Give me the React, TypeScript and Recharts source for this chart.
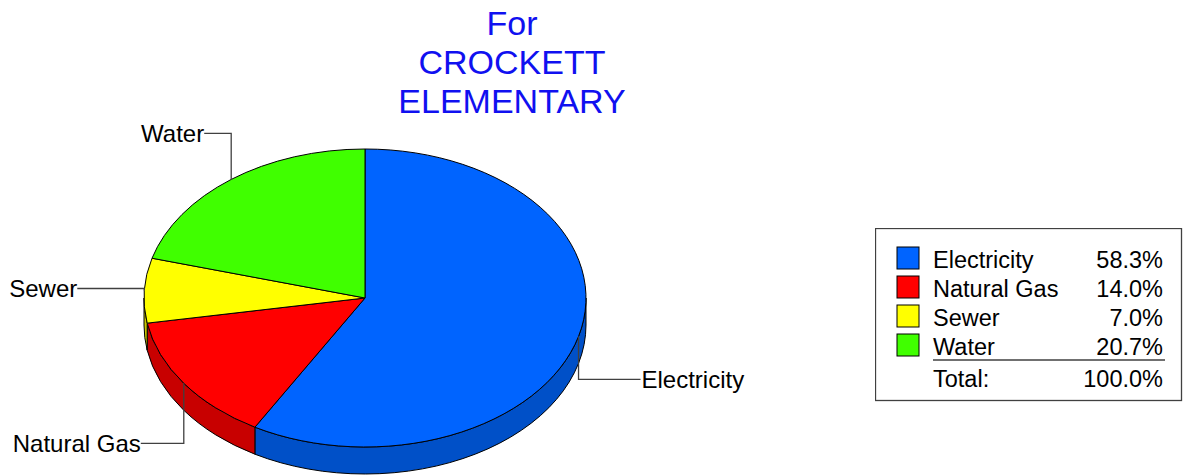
import { PieChart, Pie, Cell, Legend } from 'recharts';

// utility categories and their share of the total (percent)
const categories = ['Electricity', 'Natural Gas', 'Sewer', 'Water'];
const shares = [58.3, 14.0, 7.0, 20.7];
const shareLabels = ['58.3%', '14.0%', '7.0%', '20.7%'];
const totalLabel = '100.0%';
const titleLines = ['For', 'CROCKETT', 'ELEMENTARY'];

const TOP_COLORS = ['#0064FF', '#FF0000', '#FFFF00', '#40FF00'];
const SIDE_COLORS = ['#0050C8', '#C80000', '#C8C800', '#30C800'];

// leader line layout for each label: vertical drop then horizontal run
const LABEL_LAYOUT = [
    { dy: 43, dx: 62 },
    { dy: 60, dx: -43 },
    { dy: -2, dx: -67 },
    { dy: -46, dx: -27 },
];

const CX = 365;
const CY = 298;
const RX = 221;
const RY = 149;
const DEPTH = 27;
const FONT = '"Liberation Sans", Arial, sans-serif';
const LEGEND_FONT = 23.5;

const data = categories.map((name, i) => ({ name, value: shares[i], label: shareLabels[i] }));

function pt(cx: number, cy: number, deg: number, yOff = 0): [number, number] {
    const r = (deg * Math.PI) / 180;
    return [cx + RX * Math.cos(r), cy - (RY * Math.sin(r)) + yOff];
}

// draws the sector as a slice of a tilted (elliptical) pie with a side wall
function EllipseSector(props: any) {
    const { cx, cy, startAngle, endAngle, index } = props;
    const [sx, sy] = pt(cx, cy, startAngle);
    const [ex, ey] = pt(cx, cy, endAngle);
    const large = Math.abs(startAngle - endAngle) > 180 ? 1 : 0;
    const top = `M${cx},${cy} L${sx},${sy} A${RX},${RY} 0 ${large} 1 ${ex},${ey} Z`;

    // part of the arc on the front (lower) half gets a side wall
    const a = Math.min(startAngle, 0);
    const b = Math.max(endAngle, -180);
    let side = null;
    if (a > b) {
        const [ax, ay] = pt(cx, cy, a);
        const [bx, by] = pt(cx, cy, b);
        const d = `M${ax},${ay} A${RX},${RY} 0 0 1 ${bx},${by} L${bx},${by + DEPTH} A${RX},${RY} 0 0 0 ${ax},${ay + DEPTH} Z`;
        side = <path d={d} fill={SIDE_COLORS[index]} stroke="#000" strokeWidth={1} strokeLinejoin="round" />;
    }
    return (
        <g>
            {side}
            <path d={top} fill={TOP_COLORS[index]} stroke="#000" strokeWidth={1} strokeLinejoin="round" />
        </g>
    );
}

function SliceLabel(props: any) {
    const { cx, cy, midAngle, index, name } = props;
    const layout = LABEL_LAYOUT[index];
    const [x0, y0] = pt(cx, cy, midAngle);
    const y1 = y0 + layout.dy;
    const x2 = x0 + layout.dx;
    const right = layout.dx > 0;
    return (
        <g>
            <polyline points={`${x0},${y0} ${x0},${y1} ${x2},${y1}`} fill="none" stroke="#404040" strokeWidth={1.3} />
            <text x={right ? x2 + 1 : x2} y={y1 + 8.5} textAnchor={right ? 'start' : 'end'}
                fontFamily={FONT} fontSize={24} fill="#000">
                {name}
            </text>
        </g>
    );
}

function LegendBox() {
    return (
        <svg width={308} height={174} style={{ display: 'block' }}>
            <rect x={0.5} y={0.5} width={306} height={172} fill="#fff" stroke="#404040" strokeWidth={1.3} />
            {data.map((d, i) => (
                <g key={d.name}>
                    <rect x={22} y={19 + i * 29} width={22} height={22} fill={TOP_COLORS[i]} stroke="#000" strokeWidth={1} />
                    <text x={58} y={39.5 + i * 29} fontFamily={FONT} fontSize={LEGEND_FONT} fill="#000">{d.name}</text>
                    <text x={288} y={39.5 + i * 29} textAnchor="end" fontFamily={FONT} fontSize={LEGEND_FONT} fill="#000">{d.label}</text>
                </g>
            ))}
            <line x1={58} y1={132} x2={290} y2={132} stroke="#404040" strokeWidth={1.3} />
            <text x={58} y={158.5} fontFamily={FONT} fontSize={LEGEND_FONT} fill="#000">Total:</text>
            <text x={288} y={158.5} textAnchor="end" fontFamily={FONT} fontSize={LEGEND_FONT} fill="#000">{totalLabel}</text>
        </svg>
    );
}

export default function App() {
    return (
        <div style={{ position: 'absolute', left: 0, top: 0, width: 1200, height: 475, background: '#fff' }}>
            <div style={{
                position: 'absolute', left: 312, top: 4, width: 400, textAlign: 'center',
                fontFamily: FONT, fontSize: 34, lineHeight: '39px', color: '#1010F0'
            }}>
                {titleLines.map(t => <div key={t}>{t}</div>)}
            </div>
            <PieChart width={1200} height={475} margin={{ top: 0, right: 0, bottom: 0, left: 0 }}
                style={{ position: 'absolute', left: 0, top: 0 }}>
                <Pie
                    data={data}
                    dataKey="value"
                    nameKey="name"
                    cx={CX}
                    cy={CY}
                    outerRadius={RX}
                    startAngle={90}
                    endAngle={-270}
                    shape={EllipseSector}
                    activeShape={EllipseSector}
                    inactiveShape={EllipseSector}
                    label={SliceLabel}
                    labelLine={false}
                    isAnimationActive={false}
                >
                    {data.map((d, i) => (
                        <Cell key={d.name} fill={TOP_COLORS[i]} />
                    ))}
                </Pie>
                <Legend
                    content={() => <LegendBox />}
                    wrapperStyle={{ position: 'absolute', left: 875, top: 228, width: 308, height: 174 }}
                />
            </PieChart>
        </div>
    );
}
